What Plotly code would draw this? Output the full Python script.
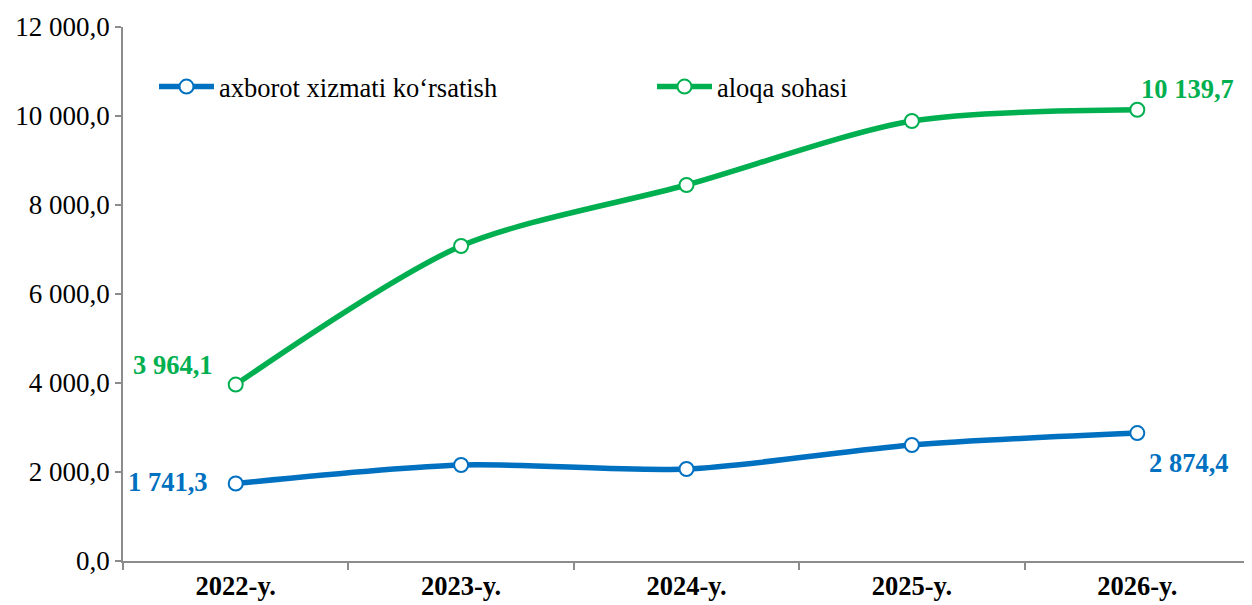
import plotly.graph_objects as go

# Chart data
years = ["2022-y.", "2023-y.", "2024-y.", "2025-y.", "2026-y."]
axborot = [1741.3, 2157.0, 2067.0, 2607.0, 2874.4]
aloqa = [3964.1, 7079.0, 8449.0, 9888.0, 10139.7]

BLUE = "#0070C0"
GREEN = "#00B050"
FONT = "Liberation Serif"


def fmt(v):
    # 1741.3 -> "1 741,3"
    return f"{v:,.1f}".replace(",", " ").replace(".", ",")


fig = go.Figure()
for name, vals, color in [
    ("axborot xizmati ko‘rsatish", axborot, BLUE),
    ("aloqa sohasi", aloqa, GREEN),
]:
    fig.add_trace(go.Scatter(
        x=years, y=vals, name=name, mode="lines+markers", cliponaxis=False,
        line=dict(color=color, width=5.5, shape="spline", smoothing=0.8),
        marker=dict(symbol="circle", size=14, color="white", line=dict(color=color, width=2)),
    ))

# end-point value labels (first and last year of each series)
labels = [
    (years[0], axborot[0], BLUE, -68, 2),
    (years[-1], axborot[-1], BLUE, 52, -30),
    (years[0], aloqa[0], GREEN, -63, 20),
    (years[-1], aloqa[-1], GREEN, 50, 21),
]
for x, y, color, dx, dy in labels:
    fig.add_annotation(
        x=x, y=y, text=fmt(y), showarrow=False, xshift=dx, yshift=dy,
        font=dict(family=FONT, size=26.5, color=color, weight="bold"),
    )

fig.update_layout(
    width=1244, height=597,
    margin=dict(l=115, r=2, t=19, b=44, autoexpand=False),
    paper_bgcolor="white", plot_bgcolor="white",
    separators=", ",
    font=dict(family=FONT, size=26.5, color="black"),
    legend=dict(
        orientation="h", x=0.0275, y=0.888, xanchor="left", yanchor="middle",
        entrywidth=428, itemwidth=55,
        font=dict(family=FONT, size=26.5, color="black"),
        bgcolor="rgba(0,0,0,0)",
    ),
    xaxis=dict(
        range=[-0.5, 4.5], automargin=False,
        showline=True, linecolor="#8C8C8C", linewidth=1.5,
        ticks="outside", tickcolor="#8C8C8C", ticklen=7, tickwidth=1.5,
        tickson="boundaries", showgrid=False,
        tickfont=dict(family=FONT, size=26.5, color="black", weight="bold"),
    ),
    yaxis=dict(
        range=[0, 12000], dtick=2000, tickformat=",.1f", automargin=False,
        showline=True, linecolor="#8C8C8C", linewidth=1.5,
        ticks="outside", tickcolor="#8C8C8C", ticklen=6, tickwidth=1.5,
        showgrid=False, zeroline=False,
        tickfont=dict(family=FONT, size=27, color="black"),
    ),
)

fig.write_html("out.html")
